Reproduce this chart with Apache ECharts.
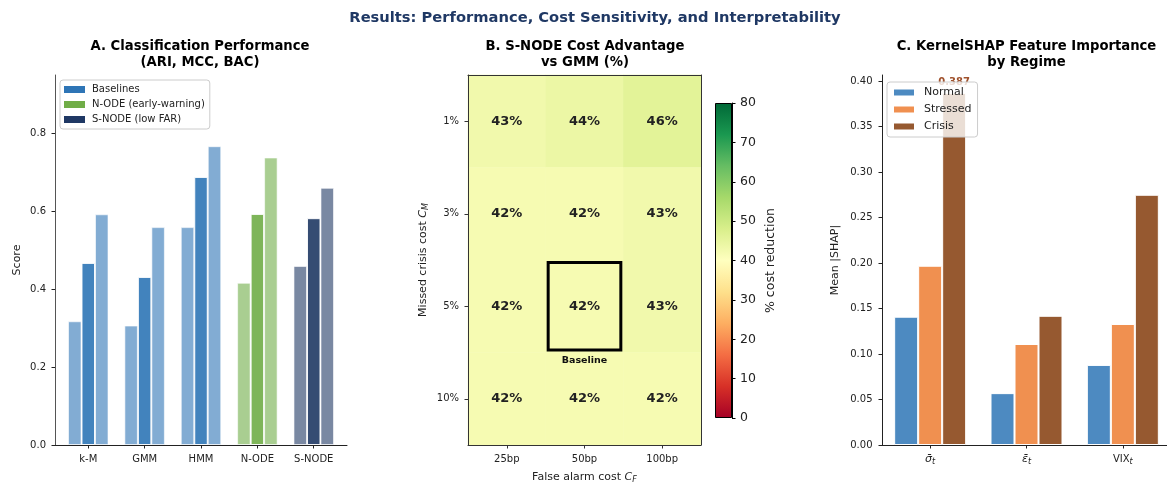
<!DOCTYPE html>
<html>
<head>
<meta charset="utf-8">
<script src="https://cdn.jsdelivr.net/npm/echarts@6/dist/echarts.min.js"></script>
<style>
  html, body { margin: 0; padding: 0; background: #fff; }
  #chart { width: 1167px; height: 482px; }
</style>
</head>
<body>
<div id="chart"></div>
<script>
// ---- Panel A: classification scores by method ----
const methods = ['k-M', 'GMM', 'HMM', 'N-ODE', 'S-NODE'];
const methodGroups = ['Baselines', 'Baselines', 'Baselines', 'N-ODE (early-warning)', 'S-NODE (low FAR)'];
const groupNames = ['Baselines', 'N-ODE (early-warning)', 'S-NODE (low FAR)'];
const ariScores = [0.318, 0.307, 0.560, 0.417, 0.460];
const mccScores = [0.468, 0.432, 0.689, 0.594, 0.583];
const bacScores = [0.593, 0.560, 0.768, 0.739, 0.661];
const scoreTicks = [0, 0.2, 0.4, 0.6, 0.8];

// ---- Panel B: cost reduction of S-NODE vs GMM (%) ----
const falseAlarmCosts = ['25bp', '50bp', '100bp'];
const missedCrisisCosts = ['1%', '3%', '5%', '10%'];
const costReduction = [
  [43, 44, 46],
  [42, 42, 43],
  [42, 42, 43],
  [42, 42, 42]
];
const baselineCell = ['50bp', '5%'];
const baselineText = 'Baseline';
const colorbarTicks = [0, 10, 20, 30, 40, 50, 60, 70, 80];

// ---- Panel C: mean |SHAP| by regime ----
const features = ['sigma', 'epsilon', 'VIX'];
const featureLabels = ['{o|σ\u0304}{s|t}', '{o|ε\u0304}{s|t}', 'VIX{s|t}'];
const regimes = ['Normal', 'Stressed', 'Crisis'];
const normalShap = [0.141, 0.057, 0.088];
const stressedShap = [0.197, 0.111, 0.133];
const crisisShap = [0.387, 0.142, 0.275];
const shapTicks = [0, 0.05, 0.10, 0.15, 0.20, 0.25, 0.30, 0.35, 0.40];

// ---- styling ----
const FONT = 'DejaVu Sans';
const groupColors = {
  'Baselines': '#2E75B6',
  'N-ODE (early-warning)': '#70AD47',
  'S-NODE (low FAR)': '#1F3864'
};
const regimeColors = ['rgba(46,117,182,0.85)', 'rgba(237,125,49,0.85)', 'rgba(132,60,12,0.85)'];
const rdYlGn = ['#a50026', '#d73027', '#f46d43', '#fdae61', '#fee08b', '#ffffbf',
                '#d9ef8b', '#a6d96a', '#66bd63', '#1a9850', '#006837'];
const tickColor = '#222';
const titleFont = 'bold 13.2px "DejaVu Sans"';
const subRich = {
  o: { fontStyle: 'italic', fontSize: 11, fontFamily: FONT, color: tickColor },
  s: { fontStyle: 'italic', fontSize: 8, fontFamily: FONT, color: tickColor, padding: [5, 0, 0, 0] },
  i: { fontStyle: 'italic', fontSize: 11, fontFamily: FONT, color: tickColor }
};

function scoreSeries(name, values, opacity) {
  return {
    name: name,
    type: 'bar',
    xAxisIndex: 0,
    yAxisIndex: 0,
    barWidth: 13.5,
    barGap: '0%',
    data: values.map((v, i) => ({
      value: [i, v],
      itemStyle: { color: groupColors[methodGroups[i]] }
    })),
    itemStyle: { opacity: opacity, borderColor: '#fff', borderWidth: 1 }
  };
}

function shapSeries(k, values) {
  return {
    name: regimes[k],
    type: 'bar',
    xAxisIndex: 4,
    yAxisIndex: 4,
    barWidth: 24,
    barGap: '0%',
    itemStyle: { color: regimeColors[k], borderColor: '#fff', borderWidth: 1 },
    data: values.map((v) => {
      const item = { value: v };
      if (v === Math.max(...crisisShap) && k === 2) {
        item.label = {
          show: true, position: 'top', distance: 5,
          formatter: (p) => p.value.toFixed(3),
          color: '#A0522D', fontWeight: 'bold', fontSize: 10, fontFamily: FONT
        };
      }
      return item;
    })
  };
}

const heatData = [];
costReduction.forEach((row, r) => row.forEach((v, c) => heatData.push([c, r, v])));

const chart = echarts.init(document.getElementById('chart'), null, { renderer: 'canvas' });

function titleText(x, y, text, font, fill) {
  return { type: 'text', x: x, y: y, style: { text: text, align: 'center', verticalAlign: 'middle', font: font, fill: fill } };
}

const option = {
  animation: false,
  backgroundColor: '#fff',
  textStyle: { fontFamily: FONT },
  graphic: [
    titleText(595, 18, 'Results: Performance, Cost Sensitivity, and Interpretability', 'bold 14.7px "DejaVu Sans"', '#1F3864'),
    titleText(200, 47, 'A. Classification Performance', titleFont, '#000'),
    titleText(200, 63, '(ARI, MCC, BAC)', titleFont, '#000'),
    titleText(585, 47, 'B. S-NODE Cost Advantage', titleFont, '#000'),
    titleText(585, 63, 'vs GMM (%)', titleFont, '#000'),
    titleText(1026.5, 47, 'C. KernelSHAP Feature Importance', titleFont, '#000'),
    titleText(1026.5, 63, 'by Regime', titleFont, '#000')
  ],
  grid: [
    { left: 55, top: 75, width: 292, height: 370, outerBoundsMode: 'none' },
    { left: 468, top: 75, width: 233, height: 370, outerBoundsMode: 'none' },
    { left: 715, top: 103, width: 17, height: 315, outerBoundsMode: 'none' },
    { left: 882, top: 75, width: 289, height: 370, outerBoundsMode: 'none' }
  ],
  legend: [
    {
      data: groupNames,
      orient: 'vertical', left: 60, top: 80,
      icon: 'rect', itemWidth: 21, itemHeight: 7, itemGap: 5,
      padding: [4.5, 5, 4.5, 4],
      backgroundColor: 'rgba(255,255,255,0.8)', borderColor: '#ccc', borderWidth: 1, borderRadius: 3,
      textStyle: { fontSize: 10, color: '#222', fontFamily: FONT, padding: [0, 0, 0, 2] }
    },
    {
      data: regimes,
      orient: 'vertical', left: 887, top: 82,
      icon: 'rect', itemWidth: 22, itemHeight: 8, itemGap: 6,
      padding: [5, 6, 5, 5],
      backgroundColor: 'rgba(255,255,255,0.8)', borderColor: '#ccc', borderWidth: 1, borderRadius: 3,
      textStyle: { fontSize: 11, color: '#222', fontFamily: FONT, padding: [0, 0, 0, 4] }
    }
  ],
  visualMap: {
    show: false, type: 'continuous', min: 0, max: 80, seriesIndex: 6,
    inRange: { color: rdYlGn }
  },
  xAxis: [
    {
      gridIndex: 0, type: 'value', min: -0.59, max: 4.59,
      axisLine: { show: true, onZero: false, lineStyle: { color: '#222', width: 1 } },
      axisTick: { show: true, length: 3.5, customValues: methods.map((m, i) => i), lineStyle: { color: '#222' } },
      axisLabel: { customValues: methods.map((m, i) => i), formatter: (v) => methods[Math.round(v)], fontSize: 10, color: tickColor, margin: 9 },
      splitLine: { show: false }
    },
    {
      gridIndex: 1, type: 'category', data: falseAlarmCosts, position: 'bottom', z: 4,
      axisLine: { show: true, lineStyle: { color: '#333' } },
      axisTick: { show: true, alignWithLabel: true, length: 3.5, lineStyle: { color: '#333' } },
      axisLabel: { fontSize: 10, color: tickColor, margin: 9 },
      name: 'False alarm cost {i|C}{s|F}', nameLocation: 'middle', nameGap: 26,
      nameTextStyle: { fontSize: 11, color: tickColor, rich: subRich }
    },
    {
      gridIndex: 1, type: 'category', data: falseAlarmCosts, position: 'top', z: 4,
      axisLine: { show: true, lineStyle: { color: '#333' } },
      axisTick: { show: false }, axisLabel: { show: false }
    },
    {
      gridIndex: 2, type: 'category', data: [''], show: false
    },
    {
      gridIndex: 3, type: 'category', data: features,
      axisLine: { show: true, lineStyle: { color: '#222' } },
      axisTick: { show: true, alignWithLabel: true, length: 3.5, lineStyle: { color: '#222' } },
      axisLabel: { formatter: (v, i) => featureLabels[i], fontSize: 10, color: tickColor, margin: 8, rich: subRich }
    }
  ],
  yAxis: [
    {
      gridIndex: 0, type: 'value', min: 0, max: 0.951,
      axisLine: { show: true, onZero: false, lineStyle: { color: '#555', width: 1 } },
      axisTick: { show: true, length: 3.5, customValues: scoreTicks, lineStyle: { color: '#222' } },
      axisLabel: { customValues: scoreTicks, formatter: (v) => v.toFixed(1), fontSize: 10, color: tickColor, margin: 9 },
      splitLine: { show: false },
      name: 'Score', nameLocation: 'middle', nameGap: 32, nameRotate: 90,
      nameTextStyle: { fontSize: 11, color: tickColor }
    },
    {
      gridIndex: 1, type: 'category', data: missedCrisisCosts, inverse: true, z: 4,
      axisLine: { show: true, lineStyle: { color: '#333' } },
      axisTick: { show: true, alignWithLabel: true, length: 3.5, lineStyle: { color: '#333' } },
      axisLabel: { fontSize: 10, color: tickColor, margin: 9 },
      name: 'Missed crisis cost {i|C}{s|M}', nameLocation: 'middle', nameGap: 38, nameRotate: 90,
      nameTextStyle: { fontSize: 11, color: tickColor, rich: subRich }
    },
    {
      gridIndex: 1, type: 'category', data: missedCrisisCosts, inverse: true, position: 'right', z: 4,
      axisLine: { show: true, lineStyle: { color: '#333' } },
      axisTick: { show: false }, axisLabel: { show: false }
    },
    {
      gridIndex: 2, type: 'value', min: 0, max: 80, interval: 10, position: 'right',
      axisLine: { show: true, lineStyle: { color: '#000' } },
      axisTick: { show: true, length: 3.5, lineStyle: { color: '#000' } },
      axisLabel: { fontSize: 12.5, color: tickColor, margin: 8 },
      splitLine: { show: false },
      name: '% cost reduction', nameLocation: 'middle', nameGap: 32, nameRotate: 90,
      nameTextStyle: { fontSize: 12.5, color: tickColor }
    },
    {
      gridIndex: 3, type: 'value', min: 0, max: 0.4066,
      axisLine: { show: true, lineStyle: { color: '#222' } },
      axisTick: { show: true, length: 3.5, customValues: shapTicks, lineStyle: { color: '#222' } },
      axisLabel: { customValues: shapTicks, formatter: (v) => v.toFixed(2), fontSize: 10, color: tickColor, margin: 9.5 },
      splitLine: { show: false },
      name: 'Mean |SHAP|', nameLocation: 'middle', nameGap: 41, nameRotate: 90,
      nameTextStyle: { fontSize: 11, color: tickColor }
    }
  ],
  series: [
    scoreSeries('ARI', ariScores, 0.6),
    scoreSeries('MCC', mccScores, 0.9),
    scoreSeries('BAC', bacScores, 0.6),
    // legend entries for the method groups
    { name: groupNames[0], type: 'line', xAxisIndex: 0, yAxisIndex: 0, data: [], itemStyle: { color: groupColors[groupNames[0]] } },
    { name: groupNames[1], type: 'line', xAxisIndex: 0, yAxisIndex: 0, data: [], itemStyle: { color: groupColors[groupNames[1]] } },
    { name: groupNames[2], type: 'line', xAxisIndex: 0, yAxisIndex: 0, data: [], itemStyle: { color: groupColors[groupNames[2]] } },
    {
      name: 'Cost reduction', type: 'heatmap', xAxisIndex: 1, yAxisIndex: 1,
      data: heatData,
      label: {
        show: true, formatter: (p) => p.value[2] + '%',
        fontSize: 13, fontWeight: 'bold', color: '#222', fontFamily: FONT
      }
    },
    {
      name: 'Baseline box', type: 'custom', xAxisIndex: 1, yAxisIndex: 1, z: 5,
      encode: { x: 0, y: 1 },
      data: [baselineCell],
      renderItem: (params, api) => {
        const c = api.coord([api.value(0), api.value(1)]);
        const s = api.size([1, 1]);
        const inset = 2.5;
        return {
          type: 'group',
          children: [
            { type: 'rect', shape: { x: c[0] - s[0] / 2 + inset, y: c[1] - s[1] / 2 + inset, width: s[0] - 2 * inset, height: s[1] - 2 * inset },
              style: { fill: 'none', stroke: '#000', lineWidth: 3 } },
            { type: 'text', style: { text: baselineText, x: c[0], y: c[1] + s[1] / 2 + 8, align: 'center', verticalAlign: 'middle',
              font: 'bold 9.5px "DejaVu Sans"', fill: '#111' } }
          ]
        };
      }
    },
    {
      name: 'Colorbar', type: 'bar', xAxisIndex: 3, yAxisIndex: 3, barWidth: '100%',
      data: [colorbarTicks[colorbarTicks.length - 1]],
      itemStyle: {
        borderColor: '#000', borderWidth: 1,
        color: new echarts.graphic.LinearGradient(0, 1, 0, 0,
          rdYlGn.map((c, i) => ({ offset: i / (rdYlGn.length - 1), color: c })))
      },
      silent: true
    },
    shapSeries(0, normalShap),
    shapSeries(1, stressedShap),
    shapSeries(2, crisisShap)
  ]
};

chart.setOption(option);
</script>
</body>
</html>
